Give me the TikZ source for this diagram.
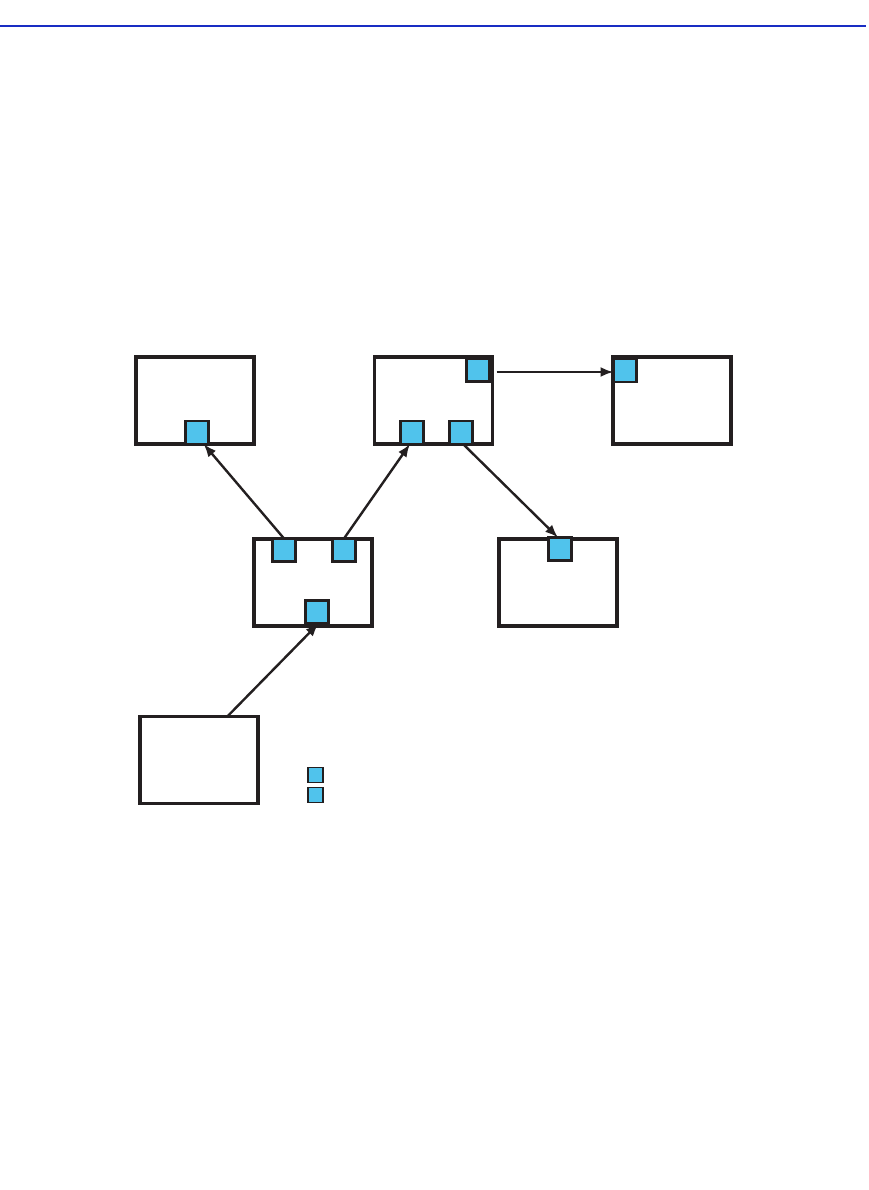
\documentclass[tikz,border=0pt]{standalone}
\usetikzlibrary{arrows.meta,calc}
\definecolor{ink}{RGB}{35,31,32}
\definecolor{port}{RGB}{80,195,236}
\definecolor{rule}{RGB}{25,45,195}
\begin{document}
\begin{tikzpicture}[x=1pt,y=-1pt,
  box/.style={draw=ink,line width=3.4pt,minimum width=118pt,minimum height=87pt,inner sep=0pt,outer sep=0pt},
  sq/.style={draw=ink,fill=port,line width=2.2pt,minimum size=23pt,inner sep=0pt,outer sep=0pt},
  sqb/.style={sq,line width=3pt},
  leg/.style={draw=ink,fill=port,line width=1.8pt,minimum size=15pt,inner sep=0pt,outer sep=0pt},
  conn/.style={draw=ink,line width=2.4pt,-{Latex[length=13pt,width=10pt]}}]
\useasboundingbox (0,0) rectangle (868,1190);
\draw[rule,line width=1.4pt] (0,26) -- (866,26);
% boxes
\node[box] (A) at (195,400.5) {};
\node[box] (B) at (433.5,400.5) {};
\node[box] (C) at (672,400.5) {};
\node[box] (D) at (313,582.5) {};
\node[box] (E) at (558,582.5) {};
\node[box] (F) at (199,760) {};
% ports
\node[sq] (a1) at (197,432.5) {};
\node[sq] (b1) at (412,432.5) {};
\node[sq] (b2) at (461,432.5) {};
\node[sqb] (b3) at (478,369.5) {};
\node[sq] (c1) at (625,370.5) {};
\node[sq] (d1) at (284,550) {};
\node[sq] (d2) at (344,550) {};
\node[sqb] (d3) at (316.5,612) {};
\node[sq] (e1) at (560,549) {};
% legend
\node[leg] (l1) at (315.5,775) {};
\node[leg] (l2) at (315.5,795) {};
% connectors
\coordinate (fout) at ($(F.north west)!0.74!(F.north east)$);
\coordinate (bout) at ([xshift=7pt]b3.east |- 0,372);
\draw[conn] (d1.north) -- (a1.-60);
\draw[conn] (d2.north) -- (b1.-100);
\draw[conn] (b2.-80) -- (e1.100);
\draw[conn] (fout) -- (d3.-80);
\draw[conn] (bout) -- (bout -| c1.west);
\end{tikzpicture}
\end{document}
